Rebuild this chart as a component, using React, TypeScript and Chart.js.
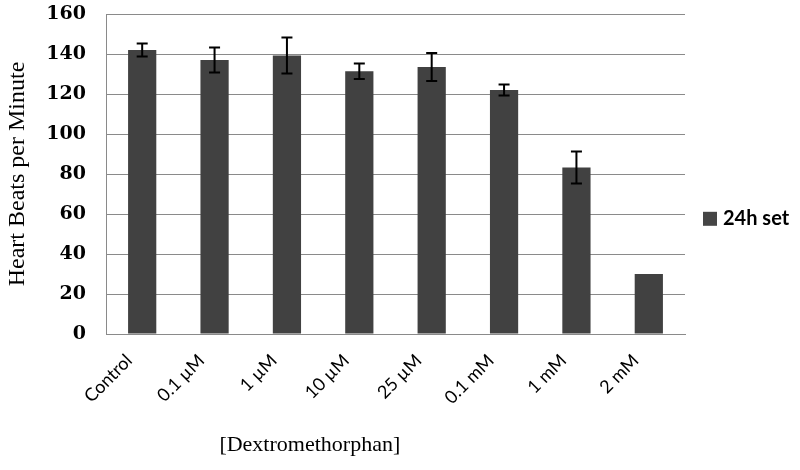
import React, { useEffect, useRef } from "react";
import { Chart, registerables } from "chart.js";

Chart.register(...registerables);

const categories = ["Control", "0.1 µM", "1 µM", "10 µM", "25 µM", "0.1 mM", "1 mM", "2 mM"];
const seriesLabel = "24h set";
const heartBeats = [142, 137, 139.2, 131.4, 133.5, 122, 83.2, 30];
const errors = [3.3, 6.3, 9, 3.9, 7, 2.7, 8, 0];
const yTicks = [0, 20, 40, 60, 80, 100, 120, 140, 160];
const yTitle = "Heart Beats per Minute";
const xTitle = "[Dextromethorphan]";

const BAR_COLOR = "#414141";
const GRID_COLOR = "#8a8a8a";

const errorBarPlugin = {
  id: "errorBars",
  afterDatasetsDraw(chart: any) {
    const meta = chart.getDatasetMeta(0);
    const yScale = chart.scales.y;
    const ctx = chart.ctx;
    ctx.save();
    ctx.strokeStyle = "#000";
    ctx.lineWidth = 2;
    meta.data.forEach((bar: any, i: number) => {
      const e = errors[i];
      if (!e) return;
      const v = heartBeats[i];
      const yTop = yScale.getPixelForValue(v + e);
      const yBot = yScale.getPixelForValue(v - e);
      const x = bar.x;
      const cap = 5.5;
      ctx.beginPath();
      ctx.moveTo(x, yTop);
      ctx.lineTo(x, yBot);
      ctx.moveTo(x - cap, yTop);
      ctx.lineTo(x + cap, yTop);
      ctx.moveTo(x - cap, yBot);
      ctx.lineTo(x + cap, yBot);
      ctx.stroke();
    });
    ctx.restore();
  },
};

const extrasPlugin = {
  id: "extras",
  afterDraw(chart: any) {
    const ctx = chart.ctx;
    const area = chart.chartArea;
    ctx.save();
    // x axis title
    ctx.fillStyle = "#000";
    ctx.font = "22px 'Liberation Serif', serif";
    ctx.textAlign = "center";
    ctx.textBaseline = "middle";
    ctx.fillText(xTitle, area.left + (area.right - area.left) * 0.352, 445);
    // legend
    const lx = area.right + 18;
    const ly = area.top + (area.bottom - area.top) * 0.64;
    ctx.fillStyle = "#454545";
    ctx.fillRect(lx, ly - 7, 14, 14);
    ctx.fillStyle = "#000";
    ctx.font = "bold 20px Lato, 'Open Sans', sans-serif";
    ctx.textAlign = "left";
    ctx.fillText(seriesLabel, lx + 20, ly);
    ctx.restore();
  },
};

export default function App() {
  const ref = useRef<HTMLCanvasElement>(null);
  useEffect(() => {
    document.body.style.margin = "0";
    const chart = new Chart(ref.current!, {
      type: "bar",
      data: {
        labels: categories,
        datasets: [
          {
            label: seriesLabel,
            data: heartBeats,
            backgroundColor: BAR_COLOR,
            borderWidth: 0,
            barPercentage: 0.39,
            categoryPercentage: 1,
          },
        ],
      },
      options: {
        responsive: false,
        animation: false,
        layout: { padding: { top: 14, right: 115, left: 0, bottom: 0 } },
        plugins: {
          legend: { display: false },
          tooltip: { enabled: false },
        },
        scales: {
          x: {
            grid: { display: false, drawTicks: false },
            border: { display: true, color: GRID_COLOR, width: 1 },
            ticks: {
              minRotation: 45,
              maxRotation: 45,
              color: "#000",
              padding: 16,
              labelOffset: -13,
              font: { family: "Lato, 'Open Sans', sans-serif", size: 18 },
            },
            afterFit(scale: any) {
              scale.height = 136;
            },
          },
          y: {
            min: 0,
            max: 160,
            afterBuildTicks(scale: any) {
              scale.ticks = yTicks.map((v) => ({ value: v }));
            },
            grid: { color: GRID_COLOR, lineWidth: 1, drawTicks: false },
            border: { display: true, color: GRID_COLOR, width: 1 },
            ticks: {
              color: "#000",
              padding: 20,
              font: { family: "'DejaVu Serif', serif", size: 19, weight: "bold" },
            },
            title: {
              display: true,
              text: yTitle,
              color: "#000",
              font: { family: "'Liberation Serif', serif", size: 24 },
              padding: { top: 3, bottom: 0 },
            },
            afterFit(scale: any) {
              scale.width = 106;
              scale.paddingTop = 0;
              scale.paddingBottom = 0;
            },
          },
        },
      },
      plugins: [errorBarPlugin, extrasPlugin],
    });
    return () => chart.destroy();
  }, []);
  return (
    <div style={{ width: 800, height: 470, background: "#fff" }}>
      <canvas ref={ref} width={800} height={470} />
    </div>
  );
}
